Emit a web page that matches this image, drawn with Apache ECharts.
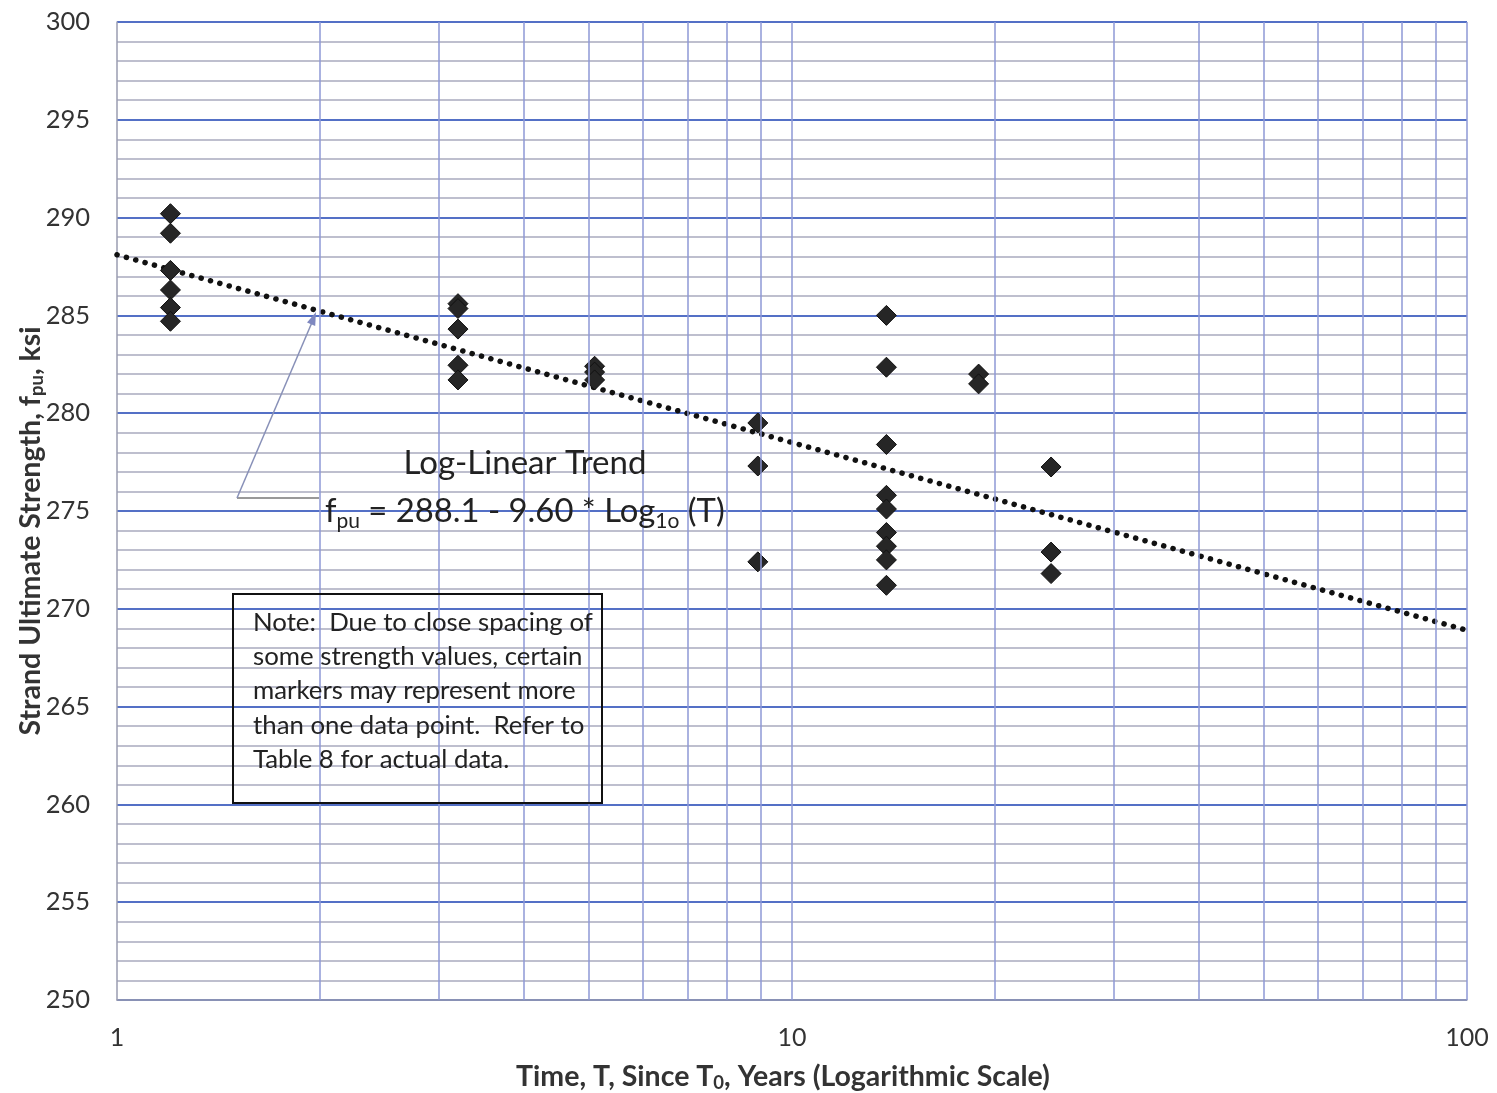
<!DOCTYPE html>
<html>
<head>
<meta charset="utf-8">
<script src="https://cdn.jsdelivr.net/npm/echarts@6/dist/echarts.min.js"></script>
<style>
html,body{margin:0;padding:0;background:#fff;overflow:hidden;}
#chart{width:1497px;height:1093px;}
</style>
</head>
<body>
<div id="chart"></div>
<script>
// ---- Data ----
const timeYears = [1.2, 3.2, 5.1, 8.9, 13.8, 18.9, 24.2];
const fpuAt1_2  = [290.2, 289.2, 287.3, 286.3, 285.4, 284.7];
const fpuAt3_2  = [285.6, 285.35, 284.3, 282.45, 281.7];
const fpuAt5_1  = [282.4, 282.1, 281.7];
const fpuAt8_9  = [279.5, 277.3, 272.4];
const fpuAt13_8 = [285.0, 282.35, 278.4, 275.8, 275.1, 273.9, 273.2, 272.5, 271.2];
const fpuAt18_9 = [282.0, 281.5];
const fpuAt24_2 = [277.25, 272.9, 271.8];
const fpuGroups = [fpuAt1_2, fpuAt3_2, fpuAt5_1, fpuAt8_9, fpuAt13_8, fpuAt18_9, fpuAt24_2];

const trendT = [1, 100];
const trendF = [288.1, 268.9];

const xTickLabels = [1, 10, 100];
const verticalGridValues = [2, 3, 4, 5, 6, 7, 8, 9, 10, 20, 30, 40, 50, 60, 70, 80, 90, 100];

// ---- Build ----
const scatterData = [];
timeYears.forEach((t, i) => fpuGroups[i].forEach(v => scatterData.push([t, v])));
const trendData = trendT.map((t, i) => [t, trendF[i]]);

const FONT = 'Lato, "Open Sans", "Liberation Sans", sans-serif';
const chart = echarts.init(document.getElementById('chart'), null, {renderer: 'canvas'});

chart.setOption({
  animation: false,
  backgroundColor: '#ffffff',
  grid: {left: 117, right: 30, top: 22, bottom: 93, containLabel: false, outerBoundsMode: 'none'},
  xAxis: {
    type: 'log', logBase: 10, min: 1, max: 100,
    name: 'Time, T, Since T{sub|0}, Years (Logarithmic Scale)',
    nameLocation: 'middle', nameGap: 60, nameMoveOverlap: false,
    nameTextStyle: {
      fontFamily: FONT, fontSize: 28.5, fontWeight: 'bold', color: '#333',
      padding: [0, 18, 0, 0],
      rich: {sub: {fontFamily: FONT, fontSize: 18.5, fontWeight: 'bold', color: '#333', padding: [14, 0, 0, 0]}}
    },
    axisLine: {show: true, lineStyle: {color: '#9a9cb0', width: 1.5}},
    axisTick: {show: false},
    splitLine: {show: false},
    axisLabel: {
      fontFamily: FONT, fontSize: 25, color: '#333', margin: 25,
      formatter: v => (xTickLabels.indexOf(Math.round(v)) >= 0 ? String(Math.round(v)) : '')
    }
  },
  yAxis: {
    type: 'value', min: 250, max: 300, interval: 5,
    name: 'Strand Ultimate Strength, f{sub|pu}, ksi',
    nameLocation: 'middle', nameGap: 70, nameRotate: 90, nameMoveOverlap: false,
    nameTextStyle: {
      fontFamily: FONT, fontSize: 28.5, fontWeight: 'bold', color: '#333',
      padding: [0, 40, 0, 0],
      rich: {sub: {fontFamily: FONT, fontSize: 18.5, fontWeight: 'bold', color: '#333', padding: [14, 0, 0, 0]}}
    },
    axisLine: {show: true, lineStyle: {color: '#9a9cb0', width: 1.5}},
    axisTick: {show: false},
    axisLabel: {fontFamily: FONT, fontSize: 25.5, color: '#333', margin: 27},
    splitLine: {show: true, lineStyle: {color: '#5470c6', width: 2}},
    minorTick: {show: false, splitNumber: 5},
    minorSplitLine: {show: true, lineStyle: {color: '#a9abbf', width: 1.5}}
  },
  series: [
    {
      name: 'grid', type: 'line', data: [], silent: true,
      markLine: {
        silent: true, symbol: 'none', label: {show: false},
        lineStyle: {color: '#8e98d6', width: 1.5, type: 'solid'},
        data: verticalGridValues.map(v => ({xAxis: v}))
      }
    },
    {
      name: 'trend', type: 'line', data: trendData, showSymbol: false, symbol: 'none',
      lineStyle: {color: '#111', width: 5.5, type: [0.1, 9.6], cap: 'round'},
      z: 3
    },
    {
      name: 'fpu', type: 'scatter', data: scatterData,
      symbol: 'diamond', symbolSize: [20, 20],
      itemStyle: {color: '#262626', borderColor: '#111', borderWidth: 1, opacity: 1},
      z: 4
    }
  ]
});

// ---- Annotations ----
chart.setOption({
  graphic: [
    {type: 'line', shape: {x1: 237, y1: 498, x2: 319, y2: 498}, style: {stroke: '#777', lineWidth: 1.5}, z: 10},
    {type: 'line', shape: {x1: 237, y1: 498, x2: 313, y2: 320}, style: {stroke: '#8890b8', lineWidth: 1.5}, z: 10},
    {type: 'polygon', shape: {points: [[316, 312], [315.2, 326], [307.0, 322.5]]}, style: {fill: '#7f88c0'}, z: 10},
    {type: 'text', x: 525, y: 463, z: 10,
      style: {text: 'Log-Linear Trend', font: '33px ' + FONT, fill: '#222', align: 'center', verticalAlign: 'middle'}},
    {type: 'text', x: 325, y: 511, z: 10,
      style: {
        text: '{n|f}{s|pu}{n| = 288.1 - 9.60 * Log}{s|1o}{n| (T)}',
        align: 'left', verticalAlign: 'middle', fill: '#222',
        rich: {
          n: {fontFamily: FONT, fontSize: 32.8, fill: '#222'},
          s: {fontFamily: FONT, fontSize: 21, fill: '#222', padding: [20, 0, 0, 0]}
        }
      }},
    {type: 'rect', shape: {x: 233, y: 594, width: 369, height: 209}, style: {fill: 'none', stroke: '#111', lineWidth: 2}, z: 10},
    {type: 'text', x: 253, y: 605, z: 10,
      style: {
        text: 'Note:  Due to close spacing of\nsome strength values, certain\nmarkers may represent more\nthan one data point.  Refer to\nTable 8 for actual data.',
        font: '25.8px ' + FONT, fill: '#222', lineHeight: 34.4, align: 'left', verticalAlign: 'top'
      }}
  ]
});
</script>
</body>
</html>
